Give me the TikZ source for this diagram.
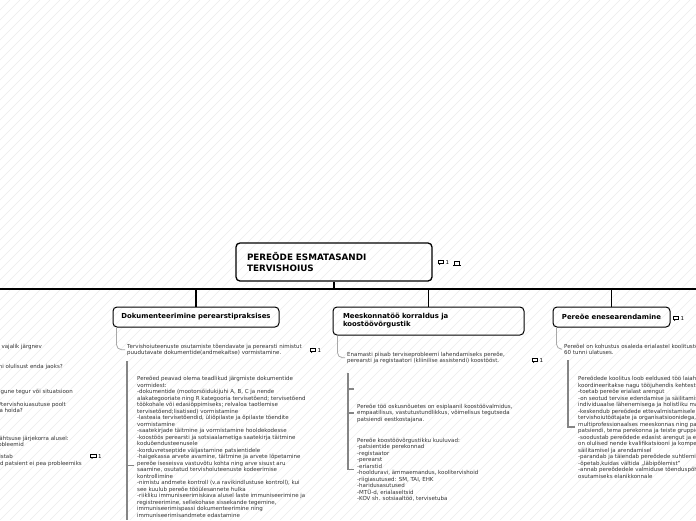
\documentclass[tikz,border=0pt]{standalone}
\usepackage{fontspec}
\setmainfont{DejaVu Sans}
\definecolor{txtgray}{HTML}{333333}
\definecolor{twiggray}{HTML}{A8A8A8}
\definecolor{stemgray}{HTML}{858585}
\definecolor{hatchgray}{HTML}{ECECEC}

\tikzset{
	root/.style={draw, line width=1.3pt, rounded corners=4pt, align=left, text width=174pt, minimum height=38pt, inner xsep=11pt, font=\fontsize{8.8}{11}\selectfont\bfseries},
	topic/.style={draw, line width=1pt, rounded corners=4pt, minimum height=20pt, inner xsep=0pt, font=\fontsize{6.9}{8}\selectfont\bfseries},
	body/.style={inner sep=0pt, align=left, text=txtgray, font=\fontsize{5.5}{6.5}\selectfont},
	cnt/.style={inner sep=0pt, anchor=west, font=\fontsize{5.5}{6.5}\selectfont},
	trunk/.style={line width=1.3pt},
	twig/.style={twiggray, line width=0.8pt, rounded corners=5pt},
	stem/.style={stemgray, line width=1.6pt},
	hatch/.style={hatchgray, line width=0.5pt},
	note/.pic={\draw[line width=0.9pt] (-2.8,-1.8) rectangle (2.8,1.2); \fill (-1.8,1.2) -- (-1.8,3) -- (0.2,1.2) -- cycle;}
}

\begin{document}
\begin{tikzpicture}[x=1pt, y=-1pt]
	\useasboundingbox (0,0) rectangle (696,520);
	\clip (0,0) rectangle (696,520);
	\fill[white] (0,0) rectangle (696,520);
	\foreach \i in {-520,-510,...,700}
		\draw[hatch] (\i,520) -- (\i+520,0);

	% main topics
	\node[root] (root) at (334,262) {PEREÕDE ESMATASANDI\\TERVISHOIUS};
	\node[topic, minimum width=166pt] (doc) at (196,317) {Dokumenteerimine perearstipraksises};
	\node[topic, minimum width=191pt, minimum height=28pt, text width=171pt, inner xsep=10pt, align=left] (team) at (428.5,321) {Meeskonnatöö korraldus ja\\koostöövõrgustik};
	\node[topic, minimum width=117pt] (self) at (611.5,317) {Pereõe enesearendamine};

	\coordinate (busW) at (0,289);
	\coordinate (busE) at (696,289);
	\draw[trunk] (busW) -- (busE);
	\draw[trunk] (root.south) -- (root.south |- busW);
	\foreach \n in {doc,team,self}
		\draw[trunk] (busW -| \n.north) -- (\n.north);

	% dokumenteerimine (anchored at the last line)
	\node[body, anchor=base west] (doc1) at (127,354.5) {Tervishoiuteenuste osutamiste tõendavate ja perearsti nimistut\\puudutavate dokumentide(andmekaitse) vormistamine.};
	\node[body, anchor=base west] (doc2) at (137,517) {Pereõed peavad olema teadlikud järgmiste dokumentide\\vormidest:\\-dokumentide (mootorsõidukijuhi A, B, C ja nende\\alakategooriate ning R kategooria tervisetõend; tervisetõend\\töökohale või edasiõppimiseks; relvaloa taotlemise\\tervisetõend;lisatised) vormistamine\\-lasteaia tervisetõendid, üliõpilaste ja õpilaste tõendite\\vormistamine\\-saatekirjade täitmine ja vormistamine hooldekodesse\\-koostöös perearsti ja sotsiaalametiga saatekirja täitmine\\koduõendusteenusele\\-korduvretseptide väljastamine patsientidele\\-haigekassa arvete avamine, täitmine ja arvete lõpetamine\\pereõe iseseisva vastuvõtu kohta ning arve sisust aru\\saamine, osutatud tervishoiuteenuste kodeerimise\\kontrollimine\\-nimistu andmete kontroll (v.a ravikindlustuse kontroll), kui\\see kuulub pereõe tööülesannete hulka\\-riikliku immuniseerimiskava alusel laste immuniseerimine ja\\registreerimine, sellekohase sissekande tegemine,\\immuniseerimispassi dokumenteerimine ning\\immuniseerimisandmete edastamine};
	\draw[twig] ([xshift=4pt]doc.south west) |- ([xshift=-2pt]doc1.west);
	\coordinate (docTop) at (127,361);
	\coordinate (docBot) at (127,520);
	\coordinate (docTick) at (127,465.5);
	\draw[stem] (docTop) -- (docBot);
	\draw[stem] (docTick) -- ++(7,0);
	\pic at (313,350) {note};
	\node[cnt] (docN) at (317.5,350.5) {1};

	% meeskonnatoo
	\node[body, anchor=base west] (team1) at (347,362.5) {Enamasti piisab terviseprobleemi lahendamiseks pereõe,\\perearsti ja registaatori (kliinilise assistendi) koostööst.};
	\node[body, anchor=base west] (team2) at (357,421) {Pereõe töö oskusnõuetes on esiplaanil koostöövalmidus,\\empaatilisus, vastutustundlikkus, võimelisus tegutseda\\patsiendi eestkostajana.};
	\node[body, anchor=base west] (team3) at (357,500.5) {Pereõe koostöövõrgustikku kuuluvad:\\-patsientide perekonnad\\-registaator\\-perearst\\-eriarstid\\-hoolduravi, ämmaemandus, koolitervishoid\\-riigiasutused: SM, TAI, EHK\\-haridusasutused\\-MTÜ-d, erialaseltsid\\-KOV sh. sotsiaaltöö, tervisetuba};
	\draw[twig] ([xshift=5pt]team.south west) |- ([xshift=-2pt]team1.west);
	\coordinate (teamTop) at (348,373);
	\coordinate (teamGap) at (348,389);
	\draw[stem] (teamTop) |- ([xshift=-3pt]team3.west);
	\draw[stem] (teamTop |- team2.west) -- ([xshift=-3pt]team2.west);
	\draw[stem] (teamGap) -- ++(6,0);
	\pic at (535,360) {note};
	\node[cnt] (teamN) at (539.5,360.5) {1};

	% enesearendamine
	\node[body, anchor=base west] (self1) at (564,354.5) {Pereõel on kohustus osaleda erialastel koolitustel vähemalt\\60 tunni ulatuses.};
	\node[body, anchor=base west] (self2) at (578,478) {Pereõdede koolitus loob eeldused töö laiahaardelisemaks muutmiseks ja\\koordineeritakse nagu tööjuhendis kehtestatud.\\-toetab pereõe erialast arengut\\-on seotud tervise edendamise ja säilitamisega ning\\individuaalse lähenemisega ja holistliku maailmavaatega\\-keskendub pereõdede ettevalmistamisele koostööks teiste\\tervishoiutöötajate ja organisatsioonidega, töötamiseks\\multiprofessionaalses meeskonnas ning partnerluseks\\patsiendi, tema perekonna ja teiste gruppidega\\-soodustab pereõdede edasist arengut ja elukestvat õpet, mis\\on olulised nende kvalifikatsiooni ja kompetentsuse\\säilitamisel ja arendamisel\\-parandab ja täiendab pereõdede suhtlemisoskusi\\-õpetab,kuidas vältida ,,läbipõlemist"\\-annab pereõdedele valmiduse tõenduspõhise õendusabi\\osutamiseks elanikkonnale};
	\draw[twig] ([xshift=4pt]self.south west) |- ([xshift=-2pt]self1.west);
	\coordinate (selfTop) at (568,360);
	\draw[stem] (selfTop) |- ([xshift=-3pt]self2.west);
	\pic at (676,318) {note};
	\node[cnt] (selfN) at (680.5,318.5) {1};

	% root icons
	\pic at (441,262) {note};
	\node[cnt] (rootN) at (445.5,262.5) {1};
	\draw[line width=0.8pt] (453,265.5) -- (461,265.5);
	\draw[line width=0.7pt] (454.5,265.5) -- (454.5,261) -- (459.5,261) -- (459.5,265.5);

	% left branch (cut off)
	\node[body, anchor=base east] (lf1) at (42,348) {on vajalik järgnev};
	\node[body, anchor=base east] (lf2) at (63,368) {emi olulisust enda jaoks?};
	\node[body, anchor=base east] (lf3) at (73,393) {välgune tegur või situatsioon};
	\node[body, anchor=base east] (lf4) at (66,406) {iy/tervishoiuasutuse poolt};
	\node[body, anchor=base east] (lf5) at (23,412) {ja hoida?};
	\node[body, anchor=base east] (lf6) at (69,440) {tähtsuse järjekorra alusel:};
	\node[body, anchor=base east] (lf7) at (24,446) {probleemid};
	\node[body, anchor=base east] (lf8) at (13,458) {ristab};
	\node[body, anchor=base east] (lf9) at (82,465) {mid patsient ei pea probleemiks};
	\pic at (93.5,456) {note};
	\node[cnt] (lfN) at (98,456.5) {1};
\end{tikzpicture}
\end{document}
